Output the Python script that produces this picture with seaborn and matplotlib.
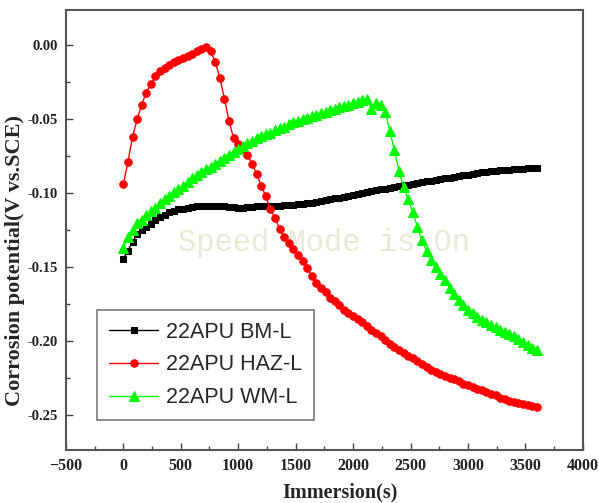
import numpy as np
import pandas as pd
import matplotlib
matplotlib.use("Agg")
import matplotlib.pyplot as plt
import seaborn as sns
from matplotlib.ticker import MultipleLocator

# time grid (s)
time_s = np.arange(0, 3601, 40)

bm_l = [-0.1446, -0.139, -0.133, -0.128, -0.125, -0.123, -0.121, -0.118, -0.116, -0.1145,
        -0.113, -0.112, -0.111, -0.1105, -0.110, -0.1095, -0.109, -0.109, -0.1088, -0.1087,
        -0.1087, -0.109, -0.109, -0.1095, -0.1097, -0.1098, -0.1098, -0.1097, -0.1095, -0.109,
        -0.109, -0.1088, -0.1087, -0.1086, -0.1085, -0.1083, -0.108, -0.1078, -0.1076, -0.1073,
        -0.107, -0.1064, -0.1058, -0.1052, -0.1046, -0.104, -0.1035, -0.103, -0.1025, -0.102,
        -0.1015, -0.1008, -0.1001, -0.0994, -0.0987, -0.098, -0.0975, -0.097, -0.0964, -0.0958,
        -0.0953, -0.0947, -0.0942, -0.0936, -0.093, -0.0925, -0.092, -0.0915, -0.091, -0.0905,
        -0.090, -0.0895, -0.089, -0.0885, -0.088, -0.0875, -0.087, -0.0865, -0.086, -0.0857,
        -0.0853, -0.085, -0.0846, -0.0843, -0.0841, -0.0839, -0.0837, -0.0835, -0.0833, -0.0832,
        -0.083]

haz_l = [-0.094, -0.079, -0.062, -0.050, -0.040, -0.032, -0.026, -0.021, -0.017, -0.015,
         -0.013, -0.0115, -0.010, -0.0088, -0.007, -0.0055, -0.004, -0.0025, -0.001, -0.004,
         -0.011, -0.022, -0.036, -0.051, -0.063, -0.067, -0.070, -0.074, -0.080, -0.087,
         -0.095, -0.102, -0.111, -0.117, -0.124, -0.130, -0.134, -0.138, -0.142, -0.146,
         -0.151, -0.156, -0.161, -0.164, -0.167, -0.171, -0.173, -0.176, -0.179, -0.181,
         -0.183, -0.1855, -0.1875, -0.190, -0.193, -0.195, -0.197, -0.1995, -0.202, -0.204,
         -0.206, -0.208, -0.210, -0.212, -0.214, -0.216, -0.218, -0.2195, -0.221, -0.2225,
         -0.224, -0.225, -0.226, -0.2275, -0.229, -0.230, -0.231, -0.2325, -0.2335, -0.235,
         -0.236, -0.237, -0.2385, -0.2395, -0.2405, -0.2415, -0.2425, -0.243, -0.2437, -0.2442,
         -0.2448]

wm_l = [-0.137, -0.130, -0.125, -0.1205, -0.118, -0.115, -0.112, -0.110, -0.107, -0.104,
        -0.102, -0.0995, -0.097, -0.095, -0.0925, -0.090, -0.088, -0.086, -0.084, -0.082,
        -0.080, -0.078, -0.076, -0.074, -0.072, -0.070, -0.068, -0.066, -0.0645, -0.063,
        -0.0615, -0.060, -0.059, -0.0575, -0.056, -0.055, -0.0535, -0.052, -0.051, -0.050,
        -0.049, -0.048, -0.047, -0.046, -0.045, -0.044, -0.043, -0.042, -0.041, -0.040,
        -0.039, -0.038, -0.037, -0.036, -0.043, -0.039, -0.040, -0.045, -0.058, -0.071,
        -0.085, -0.096, -0.104, -0.113, -0.123, -0.132, -0.139, -0.145, -0.150, -0.155,
        -0.159, -0.164, -0.1685, -0.1725, -0.176, -0.179, -0.1815, -0.184, -0.186, -0.1875,
        -0.189, -0.191, -0.1925, -0.194, -0.1955, -0.197, -0.199, -0.201, -0.203, -0.205,
        -0.2066]

labels = ["22APU BM-L", "22APU HAZ-L", "22APU WM-L"]
colors = ["#000000", "#ff0000", "#00ff00"]
markers = ["s", "o", "^"]
msizes = [5.0, 5.4, 6.5]

sns.set_style("white")
plt.rcParams["font.family"] = ["Liberation Serif", "DejaVu Serif"]

fig = plt.figure(figsize=(5.99, 5.03), dpi=100)
ax = fig.add_axes([0.110, 0.1054, 0.863, 0.8746])

# watermark
ax.text(0.5, 0.47, "Speed Mode is On", transform=ax.transAxes, ha="center", va="center",
        fontsize=22, color="#ebe8d6", family=["Liberation Mono", "DejaVu Sans Mono"], zorder=0)

for vals, lab, c, m, ms in zip([bm_l, haz_l, wm_l], labels, colors, markers, msizes):
    df = pd.DataFrame({"t": time_s, "v": vals})
    sns.lineplot(data=df, x="t", y="v", ax=ax, color=c, marker=m, markersize=ms,
                 markeredgecolor=c, markerfacecolor=c, linewidth=1.0, label=lab, sort=False,
                 zorder=3)

ax.set_xlim(-500, 4000)
ax.set_ylim(-0.274, 0.024)
ax.xaxis.set_major_locator(MultipleLocator(500))
ax.xaxis.set_minor_locator(MultipleLocator(250))
ax.yaxis.set_minor_locator(MultipleLocator(0.025))
ax.set_yticks([0.00, -0.05, -0.10, -0.15, -0.20, -0.25])
ax.set_yticklabels(["0.00", "-0.05", "-0.10", "-0.15", "-0.20", "-0.25"])

ax.tick_params(which="both", direction="in", color="#444444")
ax.tick_params(which="major", length=5, width=1.0, pad=6)
ax.tick_params(axis="x", which="major", labelsize=11.5)
ax.tick_params(axis="y", which="major", labelsize=10.5)
ax.tick_params(which="minor", length=3, width=1.0)
ax.tick_params(axis="both", which="both", bottom=True, left=True, top=False, right=False)
for lbl in ax.get_xticklabels() + ax.get_yticklabels():
    lbl.set_fontweight("bold")
    lbl.set_color("#222222")

for sp in ax.spines.values():
    sp.set_color("#555555")
    sp.set_linewidth(1.5)

ax.set_xlabel("Immersion(s)", fontsize=14.5, fontweight="bold")
ax.xaxis.set_label_coords(0.530, -0.073)
ax.set_ylabel("Corrosion potential(V vs.SCE)", fontsize=16, fontweight="bold")
ax.yaxis.set_label_coords(-0.079, 0.43)

leg = ax.legend(loc="lower left", bbox_to_anchor=(0.06, 0.068), borderaxespad=0,
                frameon=True, fancybox=False,
                prop={"family": ["Liberation Sans", "DejaVu Sans"], "size": 15.5},
                handlelength=2.3, handletextpad=0.35, labelspacing=0.55, borderpad=0.55)
leg.get_frame().set_edgecolor("#555555")
leg.get_frame().set_linewidth(1.2)

fig.savefig("out.png", dpi=100)
